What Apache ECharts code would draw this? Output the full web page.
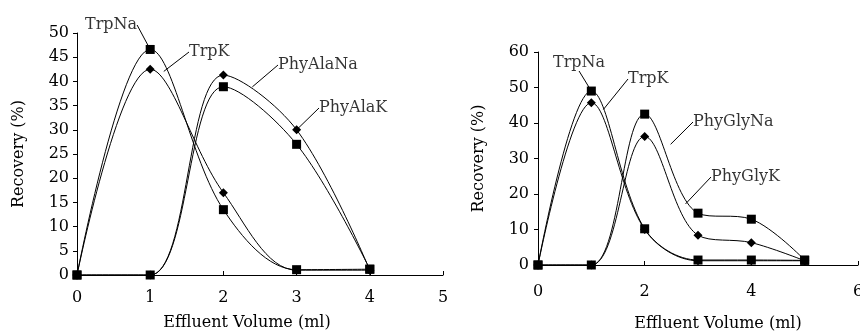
<!DOCTYPE html>
<html>
<head>
<meta charset="utf-8">
<script src="https://cdn.jsdelivr.net/npm/echarts@6/dist/echarts.min.js"></script>
<style>
  html, body { margin: 0; padding: 0; background: #fff; }
  #chart { width: 860px; height: 332px; }
</style>
</head>
<body>
<div id="chart"></div>
<script>
// left panel: Trp vs PhyAla
const volLeft = [0, 1, 2, 3, 4];
const trpNaLeft = [0, 46.6, 13.5, 1.1, 1.2];
const trpKLeft = [0, 42.5, 17, 1, 1];
const phyAlaNa = [0, 0, 38.9, 27, 1.2];
const phyAlaK = [0, 0, 41.3, 30, 1];

// right panel: Trp vs PhyGly
const volRight = [0, 1, 2, 3, 4, 5];
const trpNaRight = [0, 49, 10.2, 1.4, 1.4, 1.3];
const trpKRight = [0, 45.7, 10, 1.2, 1.2, 1.2];
const phyGlyNa = [0, 0, 42.5, 14.6, 12.9, 1.4];
const phyGlyK = [0, 0, 36.2, 8.4, 6.3, 1.2];

// where the leader lines touch the curves
const notesLeft = [['TrpNa', 1, 46.6], ['TrpK', 1.18, 42], ['PhyAlaNa', 2.39, 38.8], ['PhyAlaK', 3, 30]];
const notesRight = [['TrpNa', 1, 49], ['TrpK', 1.22, 43.7], ['PhyGlyNa', 2.48, 33.9], ['PhyGlyK', 2.76, 17.1]];

const font = 'DejaVu Serif';
const fontSize = 16;

const chart = echarts.init(document.getElementById('chart'));

function pairs(xs, ys) {
  return xs.map((x, i) => [x, ys[i]]);
}

function curve(name, xs, ys, idx, symbol) {
  return {
    name: name,
    type: 'line',
    xAxisIndex: idx,
    yAxisIndex: idx,
    data: pairs(xs, ys),
    smooth: 0.35,
    symbol: symbol,
    symbolSize: 9,
    showAllSymbol: true,
    lineStyle: { color: '#000', width: 1 },
    itemStyle: { color: '#000' },
    silent: true,
    z: symbol === 'rect' ? 3 : 2,
  };
}

function notes(list, idx, pos) {
  return {
    type: 'scatter',
    xAxisIndex: idx,
    yAxisIndex: idx,
    symbolSize: 1,
    itemStyle: { color: 'rgba(0,0,0,0)' },
    silent: true,
    z: 5,
    data: list.map(n => ({ name: n[0], value: [n[1], n[2]] })),
    label: {
      show: true,
      formatter: '{b}',
      color: '#000',
      fontFamily: font,
      fontSize: fontSize,
      padding: [2, 3],
    },
    labelLine: { show: true, lineStyle: { color: '#000', width: 1 } },
    labelLayout: function (params) {
      const p = pos[params.dataIndex];
      return { x: p[0], y: p[1], align: 'left', verticalAlign: 'middle' };
    },
  };
}

const axisText = { color: '#000', fontFamily: font, fontSize: fontSize };
const axisLine = { show: true, lineStyle: { color: '#000', width: 1 } };
const yTick = { show: true, length: 4, lineStyle: { color: '#000', width: 1 } };
const xTick = { show: true, inside: true, length: 4, lineStyle: { color: '#000', width: 1 } };

const option = {
  backgroundColor: '#fff',
  animation: false,
  grid: [
    { left: 77, top: 33, width: 366, height: 242, outerBoundsMode: 'none' },
    { left: 538, top: 52, width: 320, height: 213, outerBoundsMode: 'none' },
  ],
  xAxis: [
    {
      gridIndex: 0, type: 'value', min: 0, max: 5, interval: 1,
      name: 'Effluent Volume (ml)', nameLocation: 'middle', nameGap: 40,
      nameTextStyle: Object.assign({ padding: [0, 26, 0, 0] }, axisText),
      axisLine: axisLine, axisTick: xTick, splitLine: { show: false },
      axisLabel: Object.assign({ margin: 15 }, axisText),
    },
    {
      gridIndex: 1, type: 'value', min: 0, max: 6, interval: 2,
      name: 'Effluent Volume (ml)', nameLocation: 'middle', nameGap: 51,
      nameTextStyle: Object.assign({ padding: [0, 0, 0, 40] }, axisText),
      axisLine: axisLine, axisTick: xTick, splitLine: { show: false },
      axisLabel: Object.assign({ margin: 19 }, axisText),
    },
  ],
  yAxis: [
    {
      gridIndex: 0, type: 'value', min: 0, max: 50, interval: 5,
      name: 'Recovery (%)', nameLocation: 'middle', nameGap: 50,
      nameTextStyle: axisText,
      axisLine: axisLine, axisTick: yTick, splitLine: { show: false },
      axisLabel: Object.assign({ margin: 8 }, axisText),
    },
    {
      gridIndex: 1, type: 'value', min: 0, max: 60, interval: 10,
      name: 'Recovery (%)', nameLocation: 'middle', nameGap: 51,
      nameTextStyle: axisText,
      axisLine: axisLine, axisTick: yTick, splitLine: { show: false },
      axisLabel: Object.assign({ margin: 9 }, axisText),
    },
  ],
  series: [
    curve('TrpK', volLeft, trpKLeft, 0, 'diamond'),
    curve('PhyAlaK', volLeft, phyAlaK, 0, 'diamond'),
    curve('TrpNa', volLeft, trpNaLeft, 0, 'rect'),
    curve('PhyAlaNa', volLeft, phyAlaNa, 0, 'rect'),
    curve('TrpK', volRight, trpKRight, 1, 'diamond'),
    curve('PhyGlyK', volRight, phyGlyK, 1, 'diamond'),
    curve('TrpNa', volRight, trpNaRight, 1, 'rect'),
    curve('PhyGlyNa', volRight, phyGlyNa, 1, 'rect'),
    notes(notesLeft, 0, [[82, 25], [186, 52], [275, 65], [316, 108]]),
    notes(notesRight, 1, [[550, 63], [625, 79], [690, 122], [708, 177]]),
  ],
};

chart.setOption(option);
</script>
</body>
</html>
